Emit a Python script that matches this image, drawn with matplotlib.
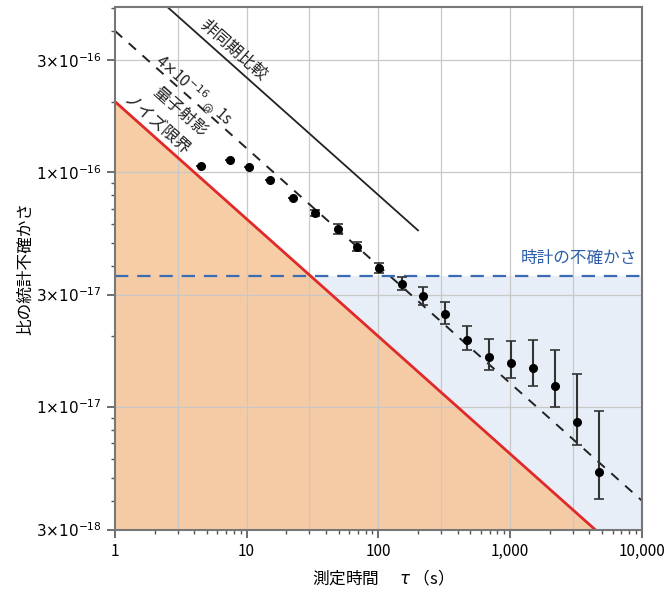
import matplotlib
matplotlib.use("Agg")
import matplotlib.pyplot as plt
import numpy as np
from matplotlib.ticker import FixedLocator, LogLocator, NullFormatter

plt.rcParams['font.family'] = ['Noto Sans CJK JP', 'DejaVu Sans']
plt.rcParams['mathtext.fontset'] = 'dejavusans'

# measured ratio instability (Allan deviation)
tau = [4.5, 7.5, 10.4, 15.1, 22.5, 33, 49, 69, 101, 152, 219, 322, 473, 695,
       1020, 1500, 2200, 3240, 4760]
sigma = [10.6, 11.25, 10.5, 9.25, 7.75, 6.69, 5.72, 4.80, 3.90, 3.34, 2.97,
         2.49, 1.93, 1.63, 1.54, 1.47, 1.23, 0.863, 0.529]  # x1e-17
sigma_lo = [10.6, 11.25, 10.5, 9.25, 7.75, 6.5, 5.45, 4.61, 3.72, 3.14, 2.72,
            2.26, 1.75, 1.44, 1.33, 1.23, 1.00, 0.69, 0.405]
sigma_hi = [10.6, 11.25, 10.5, 9.25, 7.75, 6.9, 6.0, 5.04, 4.10, 3.58, 3.24,
            2.80, 2.21, 1.95, 1.91, 1.93, 1.75, 1.38, 0.96]

# reference lines  sigma = coef / sqrt(tau)
qpn_coef = 2e-16        # quantum projection noise limit
fit_coef = 4e-16        # 4e-16 @ 1 s
async_coef = 8e-16      # asynchronous comparison
async_end = 200
clock_unc = 3.6e-17

y_ticks = [3e-18, 1e-17, 3e-17, 1e-16, 3e-16]
y_labels = [r'$3{\times}10^{-18}$', r'$1{\times}10^{-17}$', r'$3{\times}10^{-17}$',
            r'$1{\times}10^{-16}$', r'$3{\times}10^{-16}$']
x_ticks = [1, 10, 100, 1000, 10000]
x_labels = ['1', '10', '100', '1,000', '10,000']

ymin, ymax = 3e-18, 5.05e-16
xmin, xmax = 1, 10000

fig = plt.figure(figsize=(6.72, 5.92), dpi=100)
ax = fig.add_axes([0.171, 0.105, 0.784, 0.883])
ax.set_xscale('log')
ax.set_yscale('log')
ax.set_xlim(xmin, xmax)
ax.set_ylim(ymin, ymax)

t = np.logspace(0, 4, 400)
ax.fill_between(t, ymin, clock_unc, color='#E7EEF8', zorder=0, lw=0)
ax.fill_between(t, ymin, qpn_coef / np.sqrt(t), color='#F7C89C', alpha=0.9,
                zorder=1, lw=0)

# grid
for gx in [3, 10, 30, 100, 300, 1000, 3000]:
    ax.axvline(gx, color='#c8c8c8', lw=0.9, zorder=2)
for gy in y_ticks[1:]:
    ax.axhline(gy, color='#c8c8c8', lw=0.9, zorder=2)

ax.plot(t, qpn_coef / np.sqrt(t), color='#E02A2A', lw=2, zorder=3)
ax.plot(t, fit_coef / np.sqrt(t), color='#222222', lw=1.4,
        dashes=(5, 4.5), zorder=3)
ta = np.logspace(0, np.log10(async_end), 100)
ax.plot(ta, async_coef / np.sqrt(ta), color='#222222', lw=1.3, zorder=3)
ax.plot([xmin, xmax], [clock_unc, clock_unc], color='#3A6BB3', lw=1.6,
        dashes=(6, 4), zorder=3)

s = np.array(sigma) * 1e-17
lo = s - np.array(sigma_lo) * 1e-17
hi = np.array(sigma_hi) * 1e-17 - s
ax.errorbar(tau, s, yerr=[lo, hi], fmt='o', color='black', ms=5.5,
            ecolor='#333333', elinewidth=1.5, capsize=3.5, capthick=1.2,
            zorder=5)

# annotations
ang = -41.5
ax.text(7.9, 3.3e-16, '非同期比較', rotation=ang, fontsize=12,
        ha='center', va='center', color='#222222')
ax.text(3.95, 2.23e-16, r'4${\times}$10$^{-16}$ $_{@}$ 1s', rotation=ang,
        fontsize=11, ha='center', va='center', color='#222222')
ax.text(3.1, 1.8e-16, '量子射影', rotation=ang, fontsize=12,
        ha='center', va='center', color='#222222')
ax.text(2.08, 1.58e-16, 'ノイズ限界', rotation=ang, fontsize=12,
        ha='center', va='center', color='#222222')
ax.text(9200, 3.95e-17, '時計の不確かさ', fontsize=12, ha='right',
        va='bottom', color='#2F5FA8')

ax.yaxis.set_major_locator(FixedLocator(y_ticks))
ax.set_yticklabels(y_labels, fontsize=11)
ax.yaxis.set_minor_locator(LogLocator(base=10, subs=np.arange(2, 10)))
ax.yaxis.set_minor_formatter(NullFormatter())
ax.xaxis.set_major_locator(FixedLocator(x_ticks))
ax.set_xticklabels(x_labels, fontsize=11)
ax.xaxis.set_minor_locator(LogLocator(base=10, subs=np.arange(2, 10)))
ax.xaxis.set_minor_formatter(NullFormatter())
ax.tick_params(which='major', direction='out', length=6, width=1.2,
               color='#555555')
ax.tick_params(which='minor', direction='out', length=3, width=1,
               color='#555555')

for sp in ax.spines.values():
    sp.set_color('#777777')
    sp.set_linewidth(1.5)
    sp.set_zorder(6)

ax.set_xlabel('測定時間　 $\\tau$ （s）', fontsize=12, labelpad=6)
ax.set_ylabel('比の統計不確かさ', fontsize=12, labelpad=1)

fig.savefig('out.png', dpi=100)
